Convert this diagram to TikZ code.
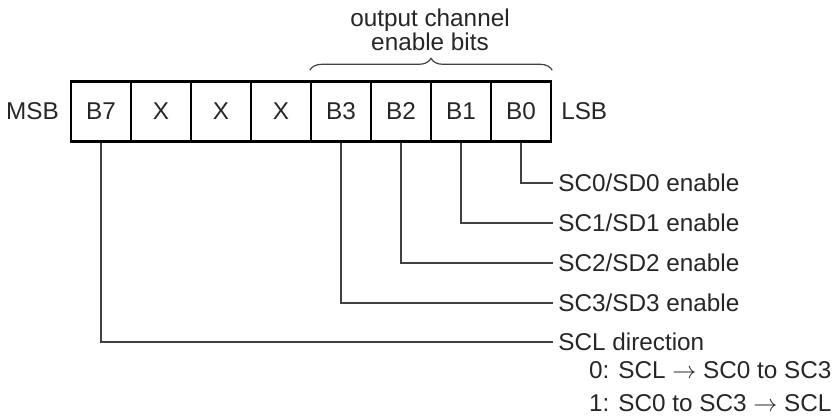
\documentclass[tikz,border=0pt]{standalone}
\usepackage{fontspec}
\setmainfont{Liberation Sans}
\usetikzlibrary{positioning,decorations.pathreplacing}

\begin{document}
\begin{tikzpicture}[x=0.5pt,y=-0.5pt,font=\fontsize{12.15}{12.3}\selectfont,text=black!85,
  bitbox/.style={draw,line width=1.2pt,minimum size=30pt,inner sep=0pt},
  sig/.style={draw=black!75,line width=0.75pt},
  lbl/.style={anchor=west,inner sep=2.5pt}]
\useasboundingbox (0,0) rectangle (833,416);

\foreach \lab/\n [count=\i] in {B7/7,X/6,X/5,X/4,B3/3,B2/2,B1/1,B0/0}{
	\node[bitbox] (bit\n) at ({41+60*\i},111.5) {\lab};
	}
\node (msb) [left=2pt of bit7] {MSB};
\node (lsb) [right=1pt of bit0] {LSB};

\draw[decorate,decoration={brace,amplitude=6pt},black!75,line width=0.6pt] ([yshift=5pt]bit3.north west) -- ([yshift=5pt]bit0.north east);
\node[align=center] (title) at (430,30) {output channel\\enable bits};

\foreach \n/\yy in {0/183,1/223,2/263,3/303}{
	\node[lbl] (sc\n) at (553,\yy) {SC\n/SD\n{} enable};
	\draw[sig] (bit\n) |- (sc\n);
	}

\node[lbl] (scl) at (553,342) {SCL direction};
\draw[sig] (bit7) |- (scl);
\node[anchor=west] (dir0) at (582,370) {0: SCL $\rightarrow$ SC0 to SC3};
\node[anchor=west] (dir1) at (582,403) {1: SC0 to SC3 $\rightarrow$ SCL};
\end{tikzpicture}
\end{document}
